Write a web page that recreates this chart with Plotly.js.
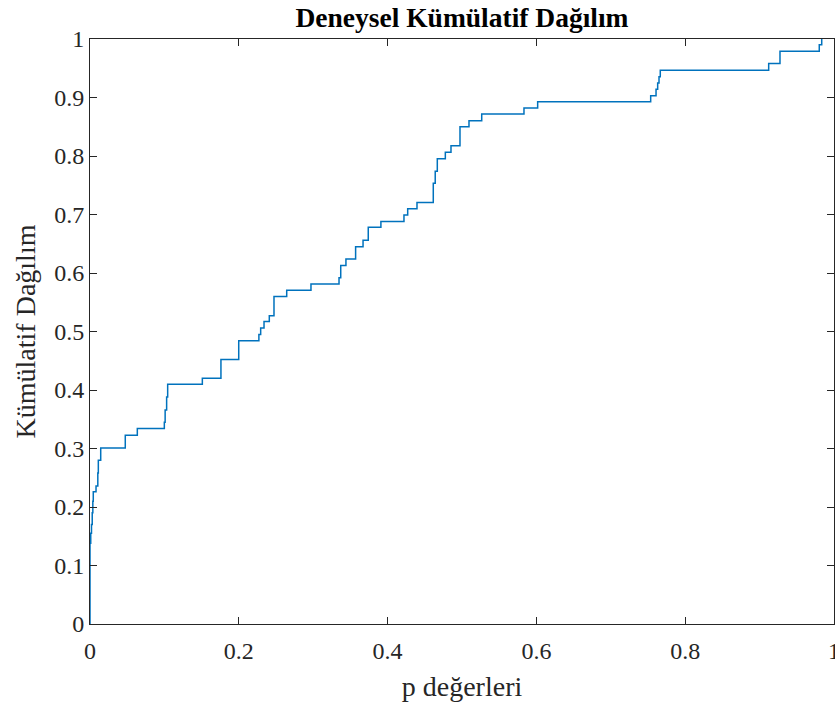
<!DOCTYPE html>
<html>
<head>
<meta charset="utf-8">
<script src="https://cdn.plot.ly/plotly-3.0.1.min.js"></script>
<style>html,body{margin:0;padding:0;background:#fff;}#chart{width:835px;height:702px;}</style>
</head>
<body>
<div id="chart"></div>
<script>
// Step corners of the empirical CDF (x = p value, y = cumulative proportion after the step)
var pValues = [0, 0, 0.001, 0.002, 0.003, 0.0038, 0.0044, 0.0081, 0.0105, 0.0112, 0.0144,
  0.0474, 0.0636, 0.0999, 0.101, 0.103, 0.1044, 0.151, 0.176, 0.1999,
  0.227, 0.2294, 0.2339, 0.241, 0.2473, 0.2644, 0.297, 0.3347, 0.337, 0.344,
  0.357, 0.367, 0.374, 0.391, 0.422, 0.427, 0.4395, 0.4614, 0.464, 0.4668,
  0.4776, 0.4852, 0.4973, 0.5094, 0.5265, 0.5833, 0.6017, 0.7536, 0.7608, 0.763,
  0.7648, 0.7665, 0.9122, 0.9274, 0.9802, 0.9835];
var cdfValues = [0, 0.138, 0.155, 0.17, 0.19, 0.21, 0.226, 0.236, 0.258, 0.28, 0.301,
  0.3225, 0.334, 0.345, 0.366, 0.388, 0.41, 0.42, 0.452, 0.484,
  0.495, 0.506, 0.517, 0.527, 0.56, 0.5704, 0.581, 0.592, 0.613, 0.624,
  0.645, 0.656, 0.678, 0.688, 0.699, 0.71, 0.7207, 0.7533, 0.774, 0.7955,
  0.8063, 0.8176, 0.85, 0.8604, 0.8718, 0.882, 0.8928, 0.903, 0.914, 0.925,
  0.9356, 0.9465, 0.958, 0.979, 0.99, 1.0];
var xTicks = [0, 0.2, 0.4, 0.6, 0.8, 1];
var xTickLabels = ["0", "0.2", "0.4", "0.6", "0.8", "1"];
var yTicks = [0, 0.1, 0.2, 0.3, 0.4, 0.5, 0.6, 0.7, 0.8, 0.9, 1];
var yTickLabels = ["0", "0.1", "0.2", "0.3", "0.4", "0.5", "0.6", "0.7", "0.8", "0.9", "1"];

var font = "Liberation Serif";
var axisColor = "#262626";

var trace = {
  x: pValues, y: cdfValues, type: "scatter", mode: "lines",
  line: {shape: "hv", color: "#0072BD", width: 1.5},
  cliponaxis: false, hoverinfo: "x+y"
};

var layout = {
  width: 835, height: 702,
  margin: {l: 90, r: 1, t: 39, b: 78, pad: 0},
  paper_bgcolor: "#fff", plot_bgcolor: "#fff",
  showlegend: false,
  font: {family: font, color: axisColor, size: 22},
  title: {text: "<b>Deneysel Kümülatif Dağılım</b>", font: {family: font, size: 27.5, color: "#000"},
          x: 0.5533, xanchor: "center", y: 0.975, yanchor: "middle"},
  xaxis: {
    range: [0, 1], tickvals: xTicks, ticktext: xTickLabels,
    ticks: "inside", ticklen: 7, tickwidth: 1, tickcolor: axisColor,
    showline: true, linecolor: axisColor, linewidth: 1, mirror: "ticks",
    showgrid: false, zeroline: false, ticklabeloverflow: "allow", ticklabelstandoff: 5,
    tickfont: {family: font, size: 24, color: axisColor},
    title: {text: "p değerleri", font: {family: font, size: 28, color: axisColor}, standoff: 16}
  },
  yaxis: {
    range: [0, 1], tickvals: yTicks, ticktext: yTickLabels,
    ticks: "inside", ticklen: 7, tickwidth: 1, tickcolor: axisColor,
    showline: true, linecolor: axisColor, linewidth: 1, mirror: "ticks",
    showgrid: false, zeroline: false, ticklabeloverflow: "allow",
    tickfont: {family: font, size: 24, color: axisColor},
    title: {text: "Kümülatif Dağılım", font: {family: font, size: 28, color: axisColor}, standoff: 10}
  }
};

Plotly.newPlot("chart", [trace], layout, {displayModeBar: false, staticPlot: true});
</script>
</body>
</html>
